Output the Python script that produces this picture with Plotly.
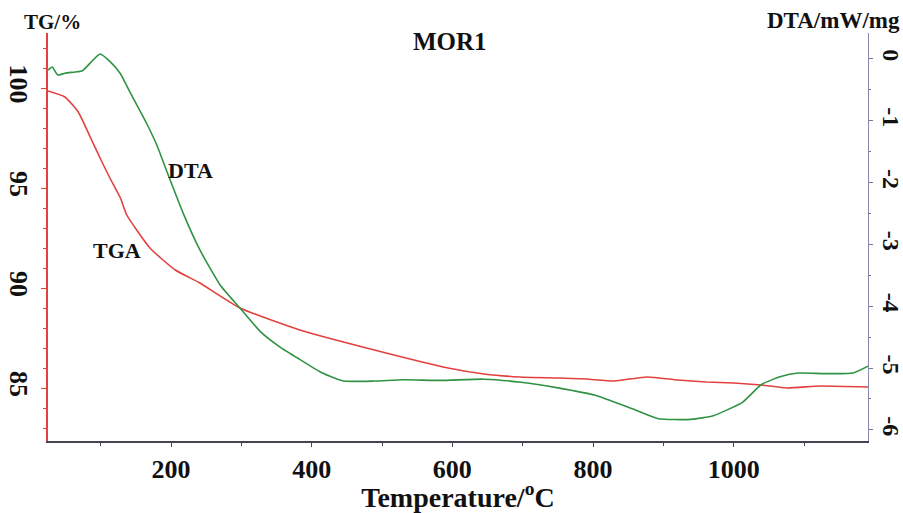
import plotly.graph_objects as go

# DTA curve (right axis, mW/mg) versus temperature (°C)
dta_temp = [25, 31, 39, 49, 64, 74, 99, 113, 128, 139, 152, 166, 180, 194, 217,
            241, 270, 298, 327, 355, 383, 415, 446, 489, 530, 583, 645, 698,
            750, 803, 856, 893, 939, 971, 1013, 1039, 1066, 1092, 1130, 1170, 1191]
dta_val = [-0.18, -0.13, -0.26, -0.23, -0.21, -0.19, 0.08, -0.04, -0.24, -0.48,
           -0.76, -1.06, -1.40, -1.82, -2.49, -3.09, -3.66, -4.03, -4.41, -4.66,
           -4.86, -5.08, -5.21, -5.21, -5.19, -5.20, -5.18, -5.23, -5.32, -5.44,
           -5.66, -5.82, -5.83, -5.77, -5.55, -5.27, -5.14, -5.08, -5.09, -5.08, -4.97]

# TG curve (left axis, % mass) versus temperature (°C)
tg_temp = [25, 49, 68, 85, 99, 113, 128, 137, 170, 206, 241, 298, 383, 489,
           594, 645, 696, 750, 790, 830, 877, 920, 961, 1000, 1039, 1076, 1123, 1191]
tg_val = [99.85, 99.55, 98.8, 97.55, 96.5, 95.5, 94.5, 93.65, 92.0, 90.9, 90.25,
          89.0, 87.9, 86.9, 86.0, 85.7, 85.55, 85.5, 85.45, 85.35, 85.55, 85.4,
          85.3, 85.25, 85.15, 85.0, 85.1, 85.05]

tg_ticks = [85, 90, 95, 100]
dta_ticks = [0, -1, -2, -3, -4, -5, -6]
temp_ticks = [200, 400, 600, 800, 1000]

RED = "#e2413f"
GREEN = "#2f9343"
SERIF = "Liberation Serif, Times New Roman, serif"

fig = go.Figure()
fig.add_trace(go.Scatter(x=tg_temp, y=tg_val, mode="lines", yaxis="y",
                         line=dict(color=RED, width=1.6, shape="spline", smoothing=0.5),
                         name="TGA"))
fig.add_trace(go.Scatter(x=dta_temp, y=dta_val, mode="lines", yaxis="y2",
                         line=dict(color=GREEN, width=1.6, shape="spline", smoothing=0.5),
                         name="DTA"))

tick_font = dict(family=SERIF, size=26, color="#111111", weight="bold")

fig.update_layout(
    width=903, height=513,
    margin=dict(l=48, r=35, t=33, b=72),
    paper_bgcolor="white", plot_bgcolor="white",
    showlegend=False,
    xaxis=dict(
        range=[25, 1191], tickvals=temp_ticks, ticks="outside", ticklen=4,
        tickcolor="#444455", showline=True, linecolor="#444455", linewidth=1.5,
        showgrid=False, zeroline=False, tickfont=tick_font, automargin=False,
        minor=dict(dtick=100, tick0=0, ticks="outside", ticklen=3, tickcolor="#444455"),
        title=dict(text="Temperature/<sup>o</sup>C", standoff=4,
                   font=dict(family=SERIF, size=28, color="#111111", weight="bold")),
    ),
    yaxis=dict(
        range=[82.35, 102.75], tickvals=tg_ticks, tickangle=90, ticks="outside",
        ticklen=5, tickcolor=RED, showline=True, linecolor=RED, linewidth=1.5,
        showgrid=False, zeroline=False, tickfont=tick_font, automargin=False,
        minor=dict(dtick=1, tick0=0, ticks="outside", ticklen=3, tickcolor=RED),
    ),
    yaxis2=dict(
        range=[-6.18, 0.42], tickvals=dta_ticks,
        ticktext=[str(v) for v in dta_ticks], tickangle=90, ticks="outside",
        ticklen=4, tickcolor="#777799", showline=True, linecolor="#8a8aa8",
        linewidth=1.2, showgrid=False, zeroline=False, overlaying="y", side="right",
        tickfont=dict(family=SERIF, size=24, color="#111111", weight="bold"),
        automargin=False,
        minor=dict(dtick=0.5, tick0=0, ticks="outside", ticklen=2, tickcolor="#777799"),
    ),
)

label_font = dict(family=SERIF, size=22, color="#111111", weight="bold")
fig.add_annotation(text="MOR1", xref="paper", yref="paper", x=0.49, y=0.98,
                   xanchor="center", yanchor="middle", showarrow=False,
                   font=dict(family=SERIF, size=25, color="#111111", weight="bold"))
fig.add_annotation(text="TG/%", xref="paper", yref="paper", x=0.006, y=1.027,
                   xanchor="center", yanchor="middle", showarrow=False,
                   font=dict(family=SERIF, size=21, color="#111111", weight="bold"))
fig.add_annotation(text="DTA/mW/mg", xref="paper", yref="paper", x=1.041, y=1.03,
                   xanchor="right", yanchor="middle", showarrow=False,
                   font=dict(family=SERIF, size=23, color="#111111", weight="bold"))
fig.add_annotation(text="DTA", x=227, y=-1.80, xref="x", yref="y2",
                   showarrow=False, font=label_font)
fig.add_annotation(text="TGA", x=123, y=91.9, xref="x", yref="y",
                   showarrow=False, font=label_font)

fig.write_html("out.html")
